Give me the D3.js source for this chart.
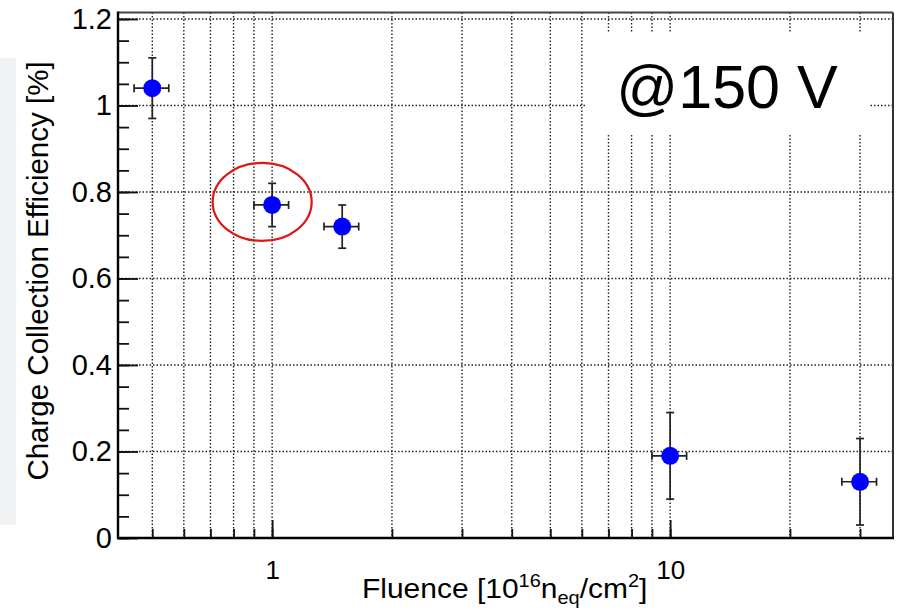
<!DOCTYPE html>
<html>
<head>
<meta charset="utf-8">
<script src="https://cdn.jsdelivr.net/npm/d3@7"></script>
<style>
  body { margin: 0; background: #fff; }
  text { font-family: "Liberation Sans", Arial, sans-serif; fill: #000; }
</style>
</head>
<body>
<script>
const width = 904;
const height = 610;
const plotLeft = 118;
const plotRight = 893;
const plotTop = 12.5;
const plotBottom = 538;

// data
const fluence = [0.5, 1, 1.5, 10, 30];
const fluenceErr = [0.05, 0.1, 0.15, 1, 3];
const cce = [1.04, 0.77, 0.72, 0.19, 0.13];
const cceErr = [0.07, 0.05, 0.05, 0.1, 0.1];

const xGridTicks = [0.5, 0.6, 0.7, 0.8, 0.9, 1, 2, 3, 4, 5, 6, 7, 8, 9, 10, 20, 30];
const xMajorTicks = [1, 10];
const yMajorTicks = [0, 0.2, 0.4, 0.6, 0.8, 1, 1.2];
const yMinorTicks = d3.range(0, 1.2001, 0.05).map((v) => +v.toFixed(2));

const points = fluence.map((f, i) => ({
  x: f,
  xe: fluenceErr[i],
  y: cce[i],
  ye: cceErr[i],
}));

const svg = d3
  .select("body")
  .append("svg")
  .attr("width", width)
  .attr("height", height);

svg.append("rect").attr("width", width).attr("height", height).attr("fill", "#fff");
// faint strip at the left edge of the screenshot
svg.append("rect").attr("x", 0).attr("y", 58).attr("width", 16).attr("height", 467).attr("fill", "#f1f2f4");

const xScale = d3.scaleLog().domain([0.41, 36.3]).range([plotLeft, plotRight]);
const yScale = d3.scaleLinear().domain([0, 1.215]).range([plotBottom, plotTop]);

// grid
const grid = svg.append("g").attr("stroke", "#222").attr("stroke-width", 1.4).attr("stroke-dasharray", "1.5,2");
grid
  .selectAll("line.vg")
  .data(xGridTicks)
  .enter()
  .append("line")
  .attr("x1", (d) => xScale(d))
  .attr("x2", (d) => xScale(d))
  .attr("y1", plotTop)
  .attr("y2", plotBottom);
grid
  .selectAll("line.hg")
  .data(yMajorTicks.filter((d) => d > 0))
  .enter()
  .append("line")
  .attr("x1", plotLeft)
  .attr("x2", plotRight)
  .attr("y1", (d) => yScale(d))
  .attr("y2", (d) => yScale(d));

// white box behind the voltage label
svg.append("rect").attr("x", 586).attr("y", 33).attr("width", 284).attr("height", 102).attr("fill", "#fff");
svg
  .append("text")
  .attr("x", 727)
  .attr("y", 108)
  .attr("text-anchor", "middle")
  .attr("font-size", 61)
  .text("@150 V");

// axes
const yAxis = d3.axisLeft(yScale).tickValues(yMajorTicks).tickSizeInner(-20).tickSizeOuter(0).tickPadding(6)
  .tickFormat((d) => (d === 0 || d === 1 ? d3.format("d")(d) : d3.format(".1f")(d)));
const yMinor = d3.axisLeft(yScale).tickValues(yMinorTicks).tickSizeInner(-11).tickSizeOuter(0).tickFormat("");

svg.append("g").attr("transform", `translate(${plotLeft},0)`).call(yMinor);
const gy = svg.append("g").attr("id", "y-axis").attr("transform", `translate(${plotLeft},0)`).call(yAxis);

const xMinor = d3.axisBottom(xScale).tickValues(xGridTicks).tickSizeInner(-9).tickSizeOuter(0).tickFormat("");
const xAxis = d3.axisBottom(xScale).tickValues(xMajorTicks).tickSizeInner(-18).tickSizeOuter(0).tickPadding(23)
  .tickFormat(d3.format("d"));

svg.append("g").attr("transform", `translate(0,${plotBottom})`).call(xMinor);
const gx = svg.append("g").attr("id", "x-axis").attr("transform", `translate(0,${plotBottom})`).call(xAxis);

svg.selectAll(".tick line").attr("stroke", "#111").attr("stroke-width", 1.8);
svg.selectAll(".domain").remove();
gy.selectAll("text").attr("font-size", 29).attr("font-family", "Liberation Sans, Arial, sans-serif").attr("fill", "#000");
gx.selectAll("text").attr("font-size", 26).attr("font-family", "Liberation Sans, Arial, sans-serif").attr("fill", "#000");

// frame
svg.append("line").attr("x1", plotLeft).attr("x2", plotRight).attr("y1", plotTop).attr("y2", plotTop).attr("stroke", "#444").attr("stroke-width", 2);
svg.append("line").attr("x1", plotRight).attr("x2", plotRight).attr("y1", plotTop).attr("y2", plotBottom).attr("stroke", "#333").attr("stroke-width", 2);
svg.append("line").attr("x1", plotLeft).attr("x2", plotLeft).attr("y1", plotTop - 1).attr("y2", plotBottom + 1).attr("stroke", "#000").attr("stroke-width", 2.4);
svg.append("line").attr("x1", plotLeft - 1).attr("x2", plotRight + 1).attr("y1", plotBottom).attr("y2", plotBottom).attr("stroke", "#000").attr("stroke-width", 2.4);

// error bars
const bars = svg.append("g").attr("stroke", "#222").attr("stroke-width", 1.7);
points.forEach((d) => {
  const cx = xScale(d.x);
  const cy = yScale(d.y);
  const x0 = xScale(d.x - d.xe);
  const x1 = xScale(d.x + d.xe);
  const y0 = yScale(d.y - d.ye);
  const y1 = yScale(d.y + d.ye);
  bars.append("line").attr("x1", x0).attr("x2", x1).attr("y1", cy).attr("y2", cy);
  bars.append("line").attr("x1", cx).attr("x2", cx).attr("y1", y0).attr("y2", y1);
  bars.append("line").attr("x1", x0).attr("x2", x0).attr("y1", cy - 4).attr("y2", cy + 4);
  bars.append("line").attr("x1", x1).attr("x2", x1).attr("y1", cy - 4).attr("y2", cy + 4);
  bars.append("line").attr("x1", cx - 4).attr("x2", cx + 4).attr("y1", y0).attr("y2", y0);
  bars.append("line").attr("x1", cx - 4).attr("x2", cx + 4).attr("y1", y1).attr("y2", y1);
});

svg
  .selectAll("circle.pt")
  .data(points)
  .enter()
  .append("circle")
  .attr("class", "pt")
  .attr("cx", (d) => xScale(d.x))
  .attr("cy", (d) => yScale(d.y))
  .attr("r", 9)
  .attr("fill", "#0000ff");

// highlight ring around the 1e16 point
svg
  .append("ellipse")
  .attr("cx", xScale(0.944))
  .attr("cy", yScale(0.777))
  .attr("rx", 49.5)
  .attr("ry", 39)
  .attr("fill", "none")
  .attr("stroke", "#e01515")
  .attr("stroke-width", 2.2);

// axis titles
svg
  .append("text")
  .attr("transform", "translate(48,271) rotate(-90)")
  .attr("text-anchor", "middle")
  .attr("font-size", 29.5)
  .text("Charge Collection Efficiency [%]");

const xt = svg.append("text").attr("transform", "translate(362,598) scale(1.11,1)").attr("font-size", 27);
xt.append("tspan").text("Fluence [10");
xt.append("tspan").attr("font-size", 18).attr("dy", -11).text("16");
xt.append("tspan").attr("dy", 11).text("n");
xt.append("tspan").attr("font-size", 18).attr("dy", 6).text("eq");
xt.append("tspan").attr("dy", -6).text("/cm");
xt.append("tspan").attr("font-size", 18).attr("dy", -11).text("2");
xt.append("tspan").attr("dy", 11).text("]");
</script>
</body>
</html>
